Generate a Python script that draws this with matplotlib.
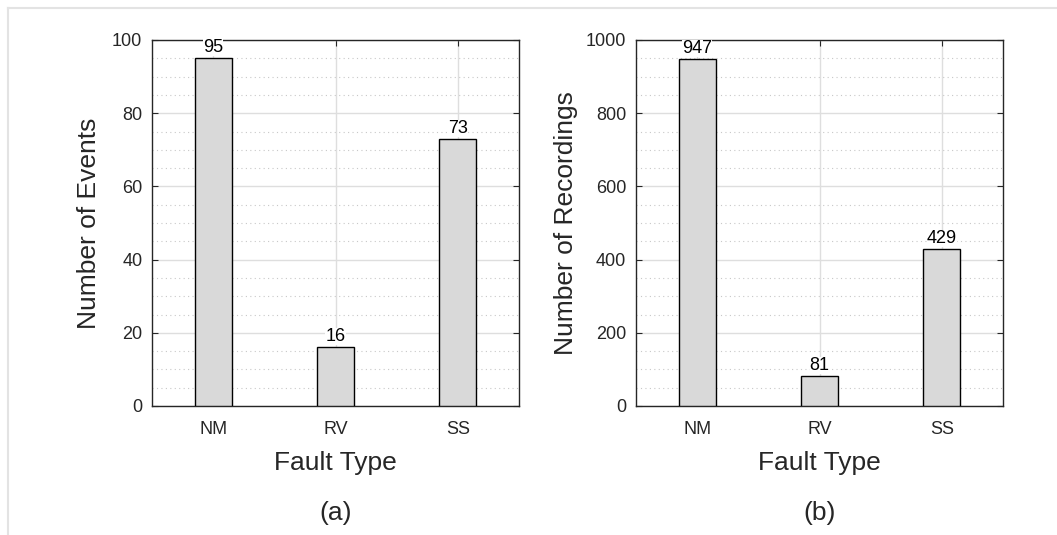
import matplotlib
matplotlib.use('Agg')
import matplotlib.pyplot as plt
from matplotlib.lines import Line2D
from matplotlib.ticker import MultipleLocator

plt.rcParams['font.family'] = ['Liberation Sans', 'DejaVu Sans']

fault_types = ['NM', 'RV', 'SS']
n_events = [95, 16, 73]
n_recordings = [947, 81, 429]

panels = [
    (n_events, 'Number of Events', 100, 20, 5, '(a)', 8),
    (n_recordings, 'Number of Recordings', 1000, 200, 50, '(b)', 6),
]

fig = plt.figure(figsize=(10.57, 5.35), dpi=100)

# thin light frame along the top and left edges
fig.add_artist(Line2D([8 / 1057, 1], [1 - 8 / 535] * 2, color='#e3e3e3', lw=1.5))
fig.add_artist(Line2D([8 / 1057] * 2, [0, 1 - 8 / 535], color='#e3e3e3', lw=1.5))

lefts = [152 / 1057, 636 / 1057]
ink = '#262626'

for left, (vals, ylab, ymax, major, minor, tag, ypad) in zip(lefts, panels):
    ax = fig.add_axes([left, 1 - 406 / 535, 367 / 1057, 366 / 535])
    x = list(range(1, len(fault_types) + 1))
    bars = ax.bar(x, vals, width=0.3, color='#d9d9d9', edgecolor='black',
                  linewidth=1.0, zorder=3)
    for b, v in zip(bars, vals):
        ax.annotate(str(v), (b.get_x() + b.get_width() / 2, v),
                    xytext=(0, 1.5), textcoords='offset points',
                    ha='center', va='bottom', fontsize=13, color='black',
                    zorder=4, bbox=dict(fc='white', ec='none', pad=0))

    ax.set_xlim(0.5, 3.5)
    ax.set_ylim(0, ymax)
    ax.set_xticks(x)
    ax.set_xticklabels(fault_types)
    ax.yaxis.set_major_locator(MultipleLocator(major))
    ax.yaxis.set_minor_locator(MultipleLocator(minor))

    ax.set_axisbelow(True)
    ax.grid(True, which='major', color='#dedede', lw=1.0)
    ax.grid(True, which='minor', axis='y', color='#c8c8c8', lw=0.8,
            linestyle=(0, (1, 3)))

    ax.tick_params(which='major', direction='in', length=4, width=0.8,
                   colors=ink, labelsize=13, top=True, right=True)
    ax.tick_params(axis='x', pad=11)
    ax.tick_params(axis='y', pad=7)
    ax.tick_params(which='minor', length=0)
    for s in ax.spines.values():
        s.set_color(ink)
        s.set_linewidth(1.0)

    ax.set_xlabel('Fault Type', fontsize=19, color=ink, labelpad=9)
    ax.set_ylabel(ylab, fontsize=19, color=ink, labelpad=ypad)

    fig.text(left + 367 / 1057 / 2, 1 - 513 / 535, tag, ha='center',
             va='center', fontsize=19, color=ink)

fig.savefig('out.png', dpi=100)
